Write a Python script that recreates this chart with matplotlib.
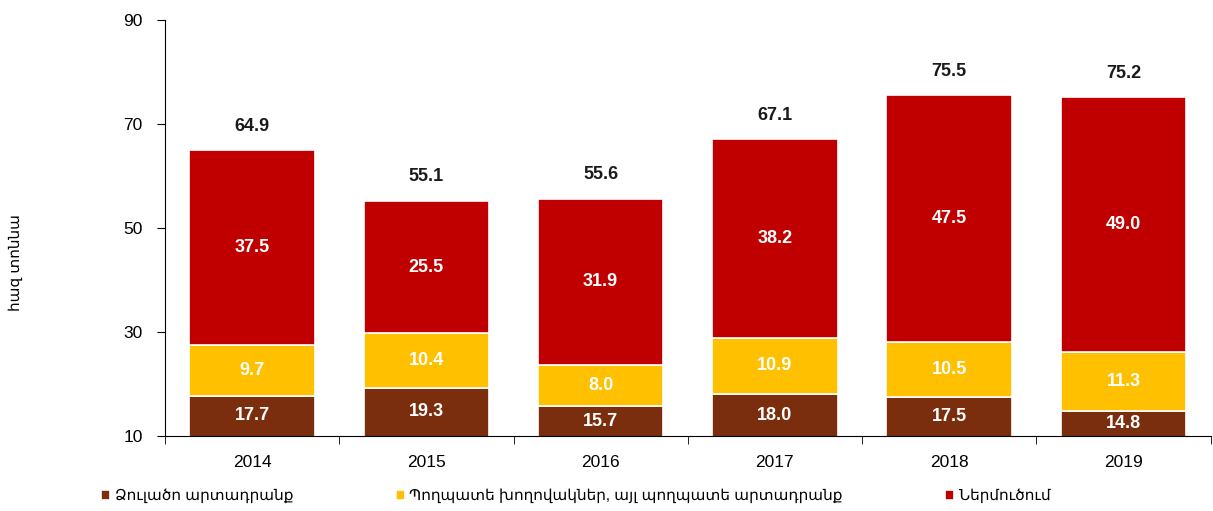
import matplotlib
matplotlib.use("Agg")
import matplotlib.pyplot as plt
import numpy as np

plt.rcParams['font.family'] = ['Liberation Sans', 'DejaVu Sans']

years = ["2014", "2015", "2016", "2017", "2018", "2019"]
cast = [17.7, 19.3, 15.7, 18.0, 17.5, 14.8]
pipes = [9.7, 10.4, 8.0, 10.9, 10.5, 11.3]
imports = [37.5, 25.5, 31.9, 38.2, 47.5, 49.0]
totals = [64.9, 55.1, 55.6, 67.1, 75.5, 75.2]
series_names = ["Ձուլածո արտադրանք", "Պողպատե խողովակներ, այլ պողպատե արտադրանք", "Ներմուծում"]
colors = ["#7B2E0E", "#FFC000", "#C00000"]
ylabel = "հազ տոննա"
yticks = [10, 30, 50, 70, 90]

ymin, ymax = 10, 90

fig = plt.figure(figsize=(12.13, 5.11), dpi=100)
ax = fig.add_axes([0.136, 0.147, 0.862, 0.814])

x = np.arange(len(years))
w = 0.72
bottom = np.zeros(len(years))
handles = []
for vals, c, name in zip([cast, pipes, imports], colors, series_names):
    b = ax.bar(x, vals, w, bottom=bottom, color=c, edgecolor="white", linewidth=1.2, label=name)
    handles.append(b)
    for xi, v, bt in zip(x, vals, bottom):
        lo = max(bt, ymin)
        ax.text(xi, (lo + bt + v) / 2, f"{v:.1f}", ha="center", va="center", color="white",
                fontsize=13, fontweight="bold")
    bottom = bottom + np.array(vals)

for xi, t, top in zip(x, totals, bottom):
    ax.text(xi, top + 4.6, f"{t:.1f}", ha="center", va="center", color="#1a1a1a",
            fontsize=13, fontweight="bold")

ax.set_ylim(ymin, ymax)
ax.set_xlim(-0.5, len(years) - 0.5)
ax.set_yticks(yticks)
ax.set_yticklabels([str(v) for v in yticks], fontsize=12.5)
ax.set_xticks(x)
ax.set_xticklabels(years, fontsize=12.5)
ax.set_xticks(np.arange(-0.5, len(years) + 0.5, 1), minor=True)
ax.tick_params(axis="x", which="major", length=0, pad=14)
ax.tick_params(axis="x", which="minor", length=6, direction="out", color="black")
ax.tick_params(axis="y", length=6, direction="out", pad=10)
for s in ["top", "right"]:
    ax.spines[s].set_visible(False)
ax.spines["left"].set_color("black")
ax.spines["bottom"].set_color("black")

fig.text(0.013, 0.487, ylabel, rotation=90, ha="center", va="center", fontsize=11)

leg = fig.legend(handles=handles, labels=series_names, loc="lower left",
                 bbox_to_anchor=(0.072, -0.012), ncol=3, frameon=False, fontsize=11,
                 handlelength=0.6, handleheight=0.6, handletextpad=0.3, columnspacing=6.7)

fig.savefig("out.png", dpi=100)
